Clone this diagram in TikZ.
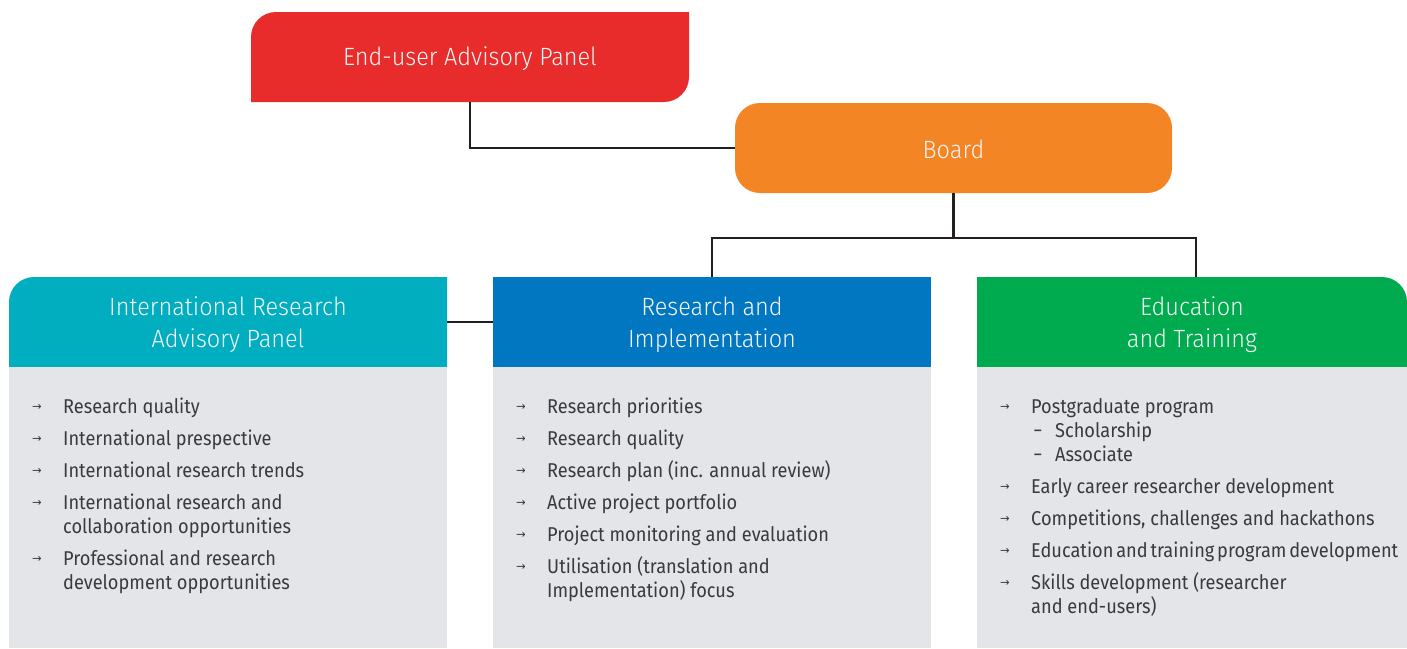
\documentclass[tikz,border=0pt]{standalone}
\usepackage{fontspec}
\setmainfont{Fira Sans}[FakeStretch=0.91]
\newfontfamily\hdfont{Fira Sans Light}[FakeStretch=0.94]
\newfontfamily\arrfont{DejaVu Sans}
\definecolor{cred}{HTML}{E82C2C}
\definecolor{corange}{HTML}{F48524}
\definecolor{cteal}{HTML}{00AEC0}
\definecolor{cblue}{HTML}{0077C0}
\definecolor{cgreen}{HTML}{00AA4F}
\definecolor{cgray}{HTML}{E4E5E9}
\definecolor{cline}{HTML}{231F20}
\definecolor{cbody}{HTML}{3A3A3C}
\begin{document}
\begin{tikzpicture}[x=1pt,y=1pt,
  conn/.style={draw=cline, line width=2.4pt},
  hdbox/.style={minimum width=438pt, minimum height=90pt, inner sep=0pt},
  hdtext/.style={inner sep=0pt, text=white!92!gray, align=center,
    font=\hdfont\fontsize{25}{32}\selectfont},
  itm/.style={anchor=base west, inner sep=0pt, text=cbody, font=\fontsize{20}{24}\selectfont},
  bul/.style={anchor=base, inner sep=0pt, text=cbody, font=\arrfont\fontsize{11.5}{12}\selectfont},
  dsh/.style={anchor=base, inner sep=0pt, text=cbody, font=\fontsize{20}{24}\selectfont}]
\useasboundingbox (0,0) rectangle (1407,-648);

% ---- shapes
\fill[cred] (251,-102) -- (251,-37) arc[start angle=180, end angle=90, radius=25] -- (689,-12)
  -- (689,-77) arc[start angle=0, end angle=-90, radius=25] -- cycle;
\fill[cteal] (9,-367) -- (9,-302) arc[start angle=180, end angle=90, radius=25] -- (447,-277) -- (447,-367) -- cycle;
\fill[cblue] (493,-277) rectangle (931,-367);
\fill[cgreen] (977,-367) -- (977,-277) -- (1382,-277) arc[start angle=90, end angle=0, radius=25] -- (1407,-367) -- cycle;
\fill[cgray] (9,-367) rectangle (447,-648);
\fill[cgray] (493,-367) rectangle (931,-648);
\fill[cgray] (977,-367) rectangle (1407,-648);

% ---- header nodes
\node[hdbox] (eap) at (470,-57) {};
\node[hdbox, minimum width=437pt, fill=corange, rounded corners=25pt] (board) at (953.5,-148) {};
\node[hdbox] (irap) at (228,-322) {};
\node[hdbox] (ri) at (712,-322) {};
\node[hdbox, minimum width=430pt] (et) at (1192,-322) {};
\coordinate (etin) at (1196,-277);

\node[hdtext] (eapT) at ([yshift=-2pt]eap.center) {End-user Advisory Panel};
\node[hdtext] (boardT) at ([yshift=-1pt]board.center) {Board};
\node[hdtext] (irapT) at ([yshift=-3pt]irap.center) {International Research\\Advisory Panel};
\node[hdtext] (riT) at ([yshift=-3pt]ri.center) {Research and\\Implementation};
\node[hdtext] (etT) at ([yshift=-3pt]et.center) {Education\\and Training};

% ---- connectors
\draw[conn] (eap.south) |- (board.west);
\draw[conn] (board.south) -- ++(0,-45) coordinate (junc);
\draw[conn] (ri.north) |- (junc) -| (etin);
\draw[conn] (irap.east) -- (ri.west);

% ---- left list
\node[bul] (la1) at (37,-410) {→};
\node[itm] (lt1) at (63,-413) {Research quality};
\node[bul] (la2) at (37,-442) {→};
\node[itm] (lt2) at (63,-445) {International prespective};
\node[bul] (la3) at (37,-474) {→};
\node[itm] (lt3) at (63,-477) {International research trends};
\node[bul] (la4) at (37,-506) {→};
\node[itm] (lt4) at (63,-509) {International research and};
\node[itm] (lt4b) at (63,-533) {collaboration opportunities};
\node[bul] (la5) at (37,-562) {→};
\node[itm] (lt5) at (63,-565) {Professional and research};
\node[itm] (lt5b) at (63,-589) {development opportunities};

% ---- middle list
\node[bul] (ma1) at (521,-410) {→};
\node[itm] (mt1) at (547,-413) {Research priorities};
\node[bul] (ma2) at (521,-442) {→};
\node[itm] (mt2) at (547,-445) {Research quality};
\node[bul] (ma3) at (521,-474) {→};
\node[itm] (mt3) at (547,-477) {Research plan (inc. annual review)};
\node[bul] (ma4) at (521,-506) {→};
\node[itm] (mt4) at (547,-509) {Active project portfolio};
\node[bul] (ma5) at (521,-538) {→};
\node[itm] (mt5) at (547,-541) {Project monitoring and evaluation};
\node[bul] (ma6) at (521,-570) {→};
\node[itm] (mt6) at (547,-573) {Utilisation (translation and};
\node[itm] (mt6b) at (547,-597) {Implementation) focus};

% ---- right list
\node[bul] (ra1) at (1005,-410) {→};
\node[itm] (rt1) at (1031,-413) {Postgraduate program};
\node[dsh] (rd1) at (1038,-437) {−};
\node[itm] (rs1) at (1055,-437) {Scholarship};
\node[dsh] (rd2) at (1038,-461) {−};
\node[itm] (rs2) at (1055,-461) {Associate};
\node[bul] (ra2) at (1005,-490) {→};
\node[itm] (rt2) at (1031,-493) {Early career researcher development};
\node[bul] (ra3) at (1005,-522) {→};
\node[itm] (rt3) at (1031,-525) {Competitions, challenges and hackathons};
\node[bul] (ra4) at (1005,-554) {→};
\node[itm] (rt4) at (1031,-557) {\spaceskip=0.14em\relax Education and training program development};
\node[bul] (ra5) at (1005,-586) {→};
\node[itm] (rt5) at (1031,-589) {Skills development (researcher};
\node[itm] (rt5b) at (1031,-613) {and end-users)};
\end{tikzpicture}
\end{document}
